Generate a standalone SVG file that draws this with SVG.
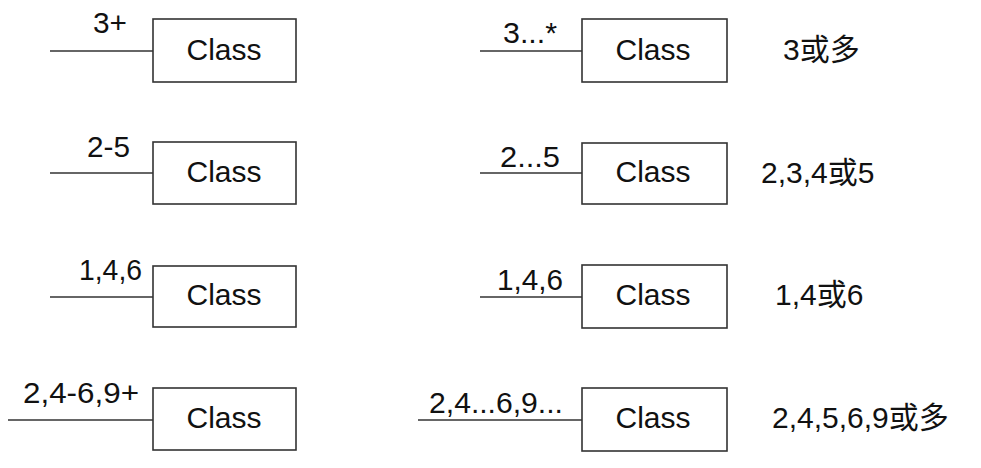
<svg xmlns="http://www.w3.org/2000/svg" width="981" height="468" viewBox="0 0 981 468">
<style>
.box{fill:#fff;stroke:#333;stroke-width:1.6}
.ln{stroke:#333;stroke-width:1.5;fill:none}
.cls{font-family:"Liberation Sans",Arial,sans-serif;font-size:30px;fill:#111;text-anchor:middle}
.lbl{font-family:"Liberation Sans",Arial,sans-serif;font-size:29px;fill:#111}
.desc{font-family:"Liberation Sans",Arial,"Noto Sans CJK SC",sans-serif;font-size:30px;fill:#111}
</style>
<rect width="981" height="468" fill="#fff"/>
<g id="connectors">
<line class="ln" x1="50" y1="51" x2="153" y2="51"/>
<line class="ln" x1="50" y1="173" x2="153" y2="173"/>
<line class="ln" x1="50" y1="297" x2="153" y2="297"/>
<line class="ln" x1="8" y1="420" x2="153" y2="420"/>
<line class="ln" x1="480" y1="51" x2="582" y2="51"/>
<line class="ln" x1="480" y1="173" x2="582" y2="173"/>
<line class="ln" x1="480" y1="297" x2="582" y2="297"/>
<line class="ln" x1="418" y1="420" x2="582" y2="420"/>
</g>
<g id="labels">
<text class="lbl" x="93" y="33" textLength="34" lengthAdjust="spacingAndGlyphs">3+</text>
<text class="lbl" x="87" y="157" textLength="43" lengthAdjust="spacingAndGlyphs">2-5</text>
<text class="lbl" x="79" y="280" textLength="63" lengthAdjust="spacingAndGlyphs">1,4,6</text>
<text class="lbl" x="23" y="403" textLength="116" lengthAdjust="spacingAndGlyphs">2,4-6,9+</text>
<text class="lbl" x="503" y="43" textLength="54" lengthAdjust="spacingAndGlyphs">3...*</text>
<text class="lbl" x="500" y="167" textLength="60" lengthAdjust="spacingAndGlyphs">2...5</text>
<text class="lbl" x="497" y="290" textLength="66" lengthAdjust="spacingAndGlyphs">1,4,6</text>
<text class="lbl" x="429" y="413" textLength="134" lengthAdjust="spacingAndGlyphs">2,4...6,9...</text>
</g>
<g id="node-l1"><rect class="box" x="153" y="19" width="143" height="63"/><text class="cls" x="224" y="60">Class</text></g>
<g id="node-l2"><rect class="box" x="153" y="142" width="143" height="62"/><text class="cls" x="224" y="182">Class</text></g>
<g id="node-l3"><rect class="box" x="153" y="266" width="143" height="61"/><text class="cls" x="224" y="305">Class</text></g>
<g id="node-l4"><rect class="box" x="153" y="388" width="143" height="62"/><text class="cls" x="224" y="428">Class</text></g>
<g id="node-r1"><rect class="box" x="582" y="19" width="145" height="63"/><text class="cls" x="653" y="60">Class</text></g>
<g id="node-r2"><rect class="box" x="582" y="143" width="145" height="61"/><text class="cls" x="653" y="182">Class</text></g>
<g id="node-r3"><rect class="box" x="582" y="265" width="145" height="63"/><text class="cls" x="653" y="305">Class</text></g>
<g id="node-r4"><rect class="box" x="582" y="388" width="145" height="63"/><text class="cls" x="653" y="428">Class</text></g>
<g id="descriptions">
<text class="desc" x="783" y="60">3或多</text>
<text class="desc" x="761" y="183">2,3,4或5</text>
<text class="desc" x="775" y="305">1,4或6</text>
<text class="desc" x="772" y="428">2,4,5,6,9或多</text>
</g>
</svg>
